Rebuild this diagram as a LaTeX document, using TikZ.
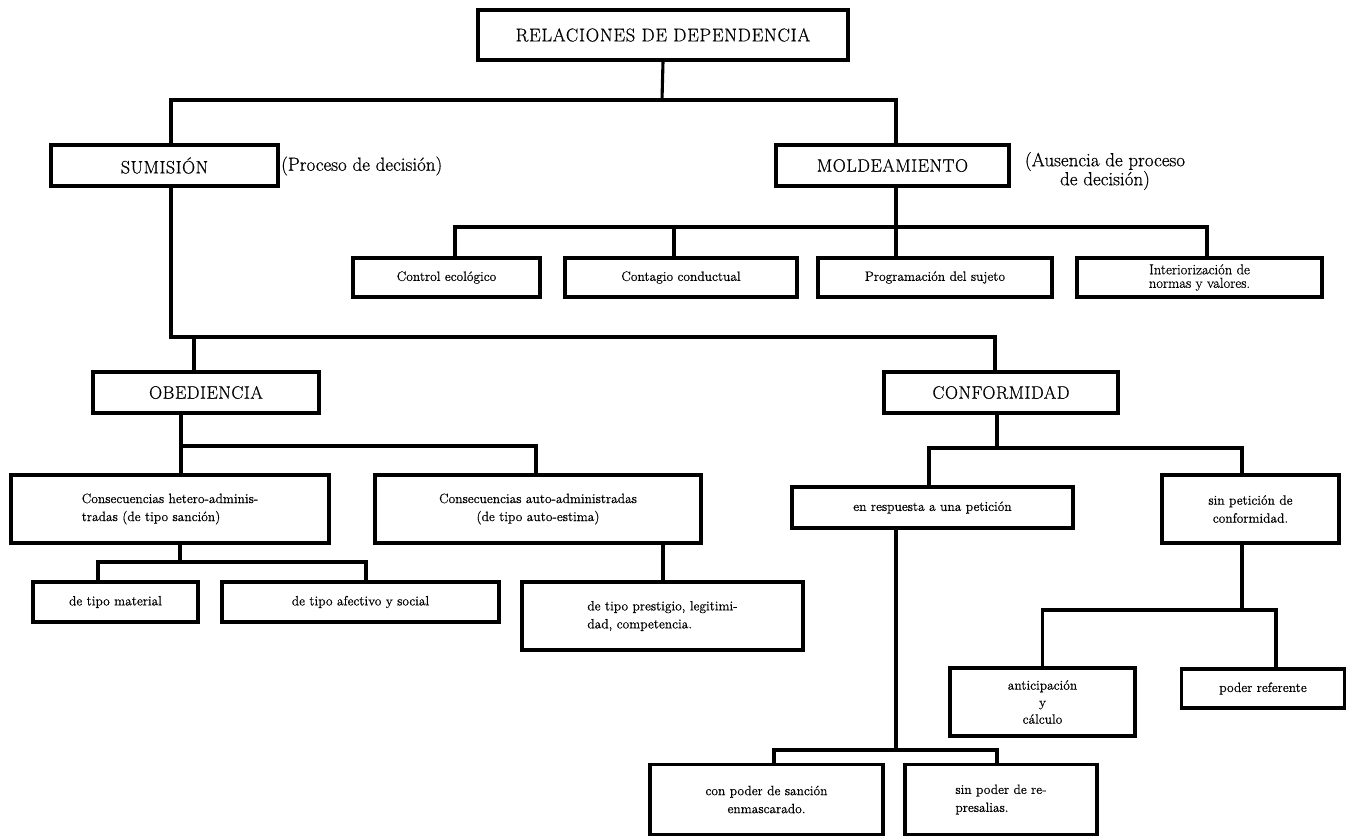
\documentclass[tikz,border=0pt]{standalone}
\usepackage{fontspec}
\setmainfont{Latin Modern Roman}[FakeBold=0.6]
\begin{document}
\begin{tikzpicture}[x=1pt,y=-1pt,
  box/.style={draw, line width=3.1pt, inner sep=0pt, align=center, font=\fontsize{13.5}{18}\selectfont},
  head/.style={box, font=\fontsize{18}{21}\selectfont\addfontfeatures{LetterSpace=3}},
  note/.style={inner sep=0pt, align=center, font=\fontsize{19}{19}\selectfont},
  wire/.style={line width=3.1pt}]
\useasboundingbox (0,0) rectangle (1347,837);
% nodes
\node[head, font=\fontsize{18.5}{21}\selectfont\addfontfeatures{LetterSpace=4}, minimum width=370, minimum height=50] (root) at (663,35) {RELACIONES DE DEPENDENCIA};
\node[head, minimum width=227, minimum height=41] (sum) at (164.5,165.5) {SUMISIÓN};
\node[note, anchor=west] (sumnote) at (281,166) {(Proceso de decisión)};
\node[head, minimum width=233, minimum height=41] (mold) at (892.5,165.5) {MOLDEAMIENTO};
\node[note] (moldnote) at (1105,171) {(Ausencia de proceso\\de decisión)};
\node[box, minimum width=187, minimum height=39] (ctrl) at (446.5,277.5) {Control ecológico};
\node[box, minimum width=232, minimum height=39] (cont) at (681,277.5) {Contagio conductual};
\node[box, minimum width=234, minimum height=39] (prog) at (935,277.5) {Programación del sujeto};
\node[box, minimum width=245, minimum height=39, font=\fontsize{14.5}{13.5}\selectfont] (inter) at (1199.5,277.5) {Interiorización de\\normas y valores.};
\node[head, minimum width=226, minimum height=41] (obe) at (206,392.5) {OBEDIENCIA};
\node[head, minimum width=234, minimum height=41] (conf) at (1001,392.5) {CONFORMIDAD};
\node[box, align=left, minimum width=318, minimum height=68] (het) at (170,509) {Consecuencias hetero-adminis-\\tradas (de tipo sanción)};
\node[box, minimum width=326, minimum height=68] (auto) at (538,509) {Consecuencias auto-administradas\\(de tipo auto-estima)};
\node[box, minimum width=165, minimum height=40] (mat) at (115.5,602) {de tipo material};
\node[box, minimum width=277, minimum height=40] (afe) at (360.5,602) {de tipo afectivo y social};
\node[box, align=left, minimum width=281, minimum height=68] (pres) at (662.5,616) {de tipo prestigio, legitimi-\\dad, competencia.};
\node[box, minimum width=281, minimum height=41] (resp) at (932.5,507.5) {en respuesta a una petición};
\node[box, minimum width=177, minimum height=68] (sinp) at (1250.5,509) {sin petición de\\conformidad.};
\node[box, font=\fontsize{13.5}{17}\selectfont, minimum width=185, minimum height=68] (anti) at (1042.5,702) {anticipación\\y\\cálculo};
\node[box, minimum width=163, minimum height=39] (ref) at (1263,688.5) {poder referente};
\node[box, minimum width=233, minimum height=70] (conp) at (766.5,799.5) {con poder de sanción\\enmascarado.};
\node[box, align=left, minimum width=192, minimum height=70] (sinr) at (1001,799.5) {sin poder de re-\\presalias.};
% junctions
\coordinate (j0) at (662,100);
\coordinate (j1) at (896,227);
\coordinate (j2) at (995,337);
\coordinate (j3) at (181,446);
\coordinate (j4) at (180,562);
\coordinate (j5) at (997,448);
\coordinate (j6) at (1242,610);
\coordinate (j7) at (896,750);
% connectors
\draw[wire] (root.south) -- (j0);
\draw[wire] ([xshift=6.5]sum.north) |- (j0) -| ([xshift=3.5]mold.north);
\draw[wire] ([xshift=3.5]mold.south) -- (j1);
\draw[wire] ([xshift=8.5]ctrl.north) |- (j1) -| ([xshift=7.5]inter.north);
\draw[wire] ([xshift=-7]cont.north) -- ([xshift=-7]cont.north |- j1);
\draw[wire] ([xshift=-39]prog.north) -- (j1);
\draw[wire] ([xshift=6.5]sum.south) |- (j2) -- ([xshift=-6]conf.north);
\draw[wire] ([xshift=-12]obe.north) -- ([xshift=-12]obe.north |- j2);
\draw[wire] ([xshift=-25]obe.south) -- ([xshift=11]het.north);
\draw[wire] (j3) -| ([xshift=-2]auto.north);
\draw[wire] ([xshift=10]het.south) -- (j4);
\draw[wire] ([xshift=-17.5]mat.north) |- (j4) -| ([xshift=5.5]afe.north);
\draw[wire] ([xshift=125]auto.south) -- ([xshift=0.5]pres.north);
\draw[wire] ([xshift=-4]conf.south) -- (j5);
\draw[wire] ([xshift=-3.5]resp.north) |- (j5) -| ([xshift=-8.5]sinp.north);
\draw[wire] ([xshift=-8.5]sinp.south) -- (j6);
\draw[wire] (anti.north) |- (j6) -| ([xshift=13]ref.north);
\draw[wire] ([xshift=-36.5]resp.south) -- (j7);
\draw[wire] ([xshift=7.5]conp.north) |- (j7) -| ([xshift=-4]sinr.north);
\end{tikzpicture}
\end{document}
